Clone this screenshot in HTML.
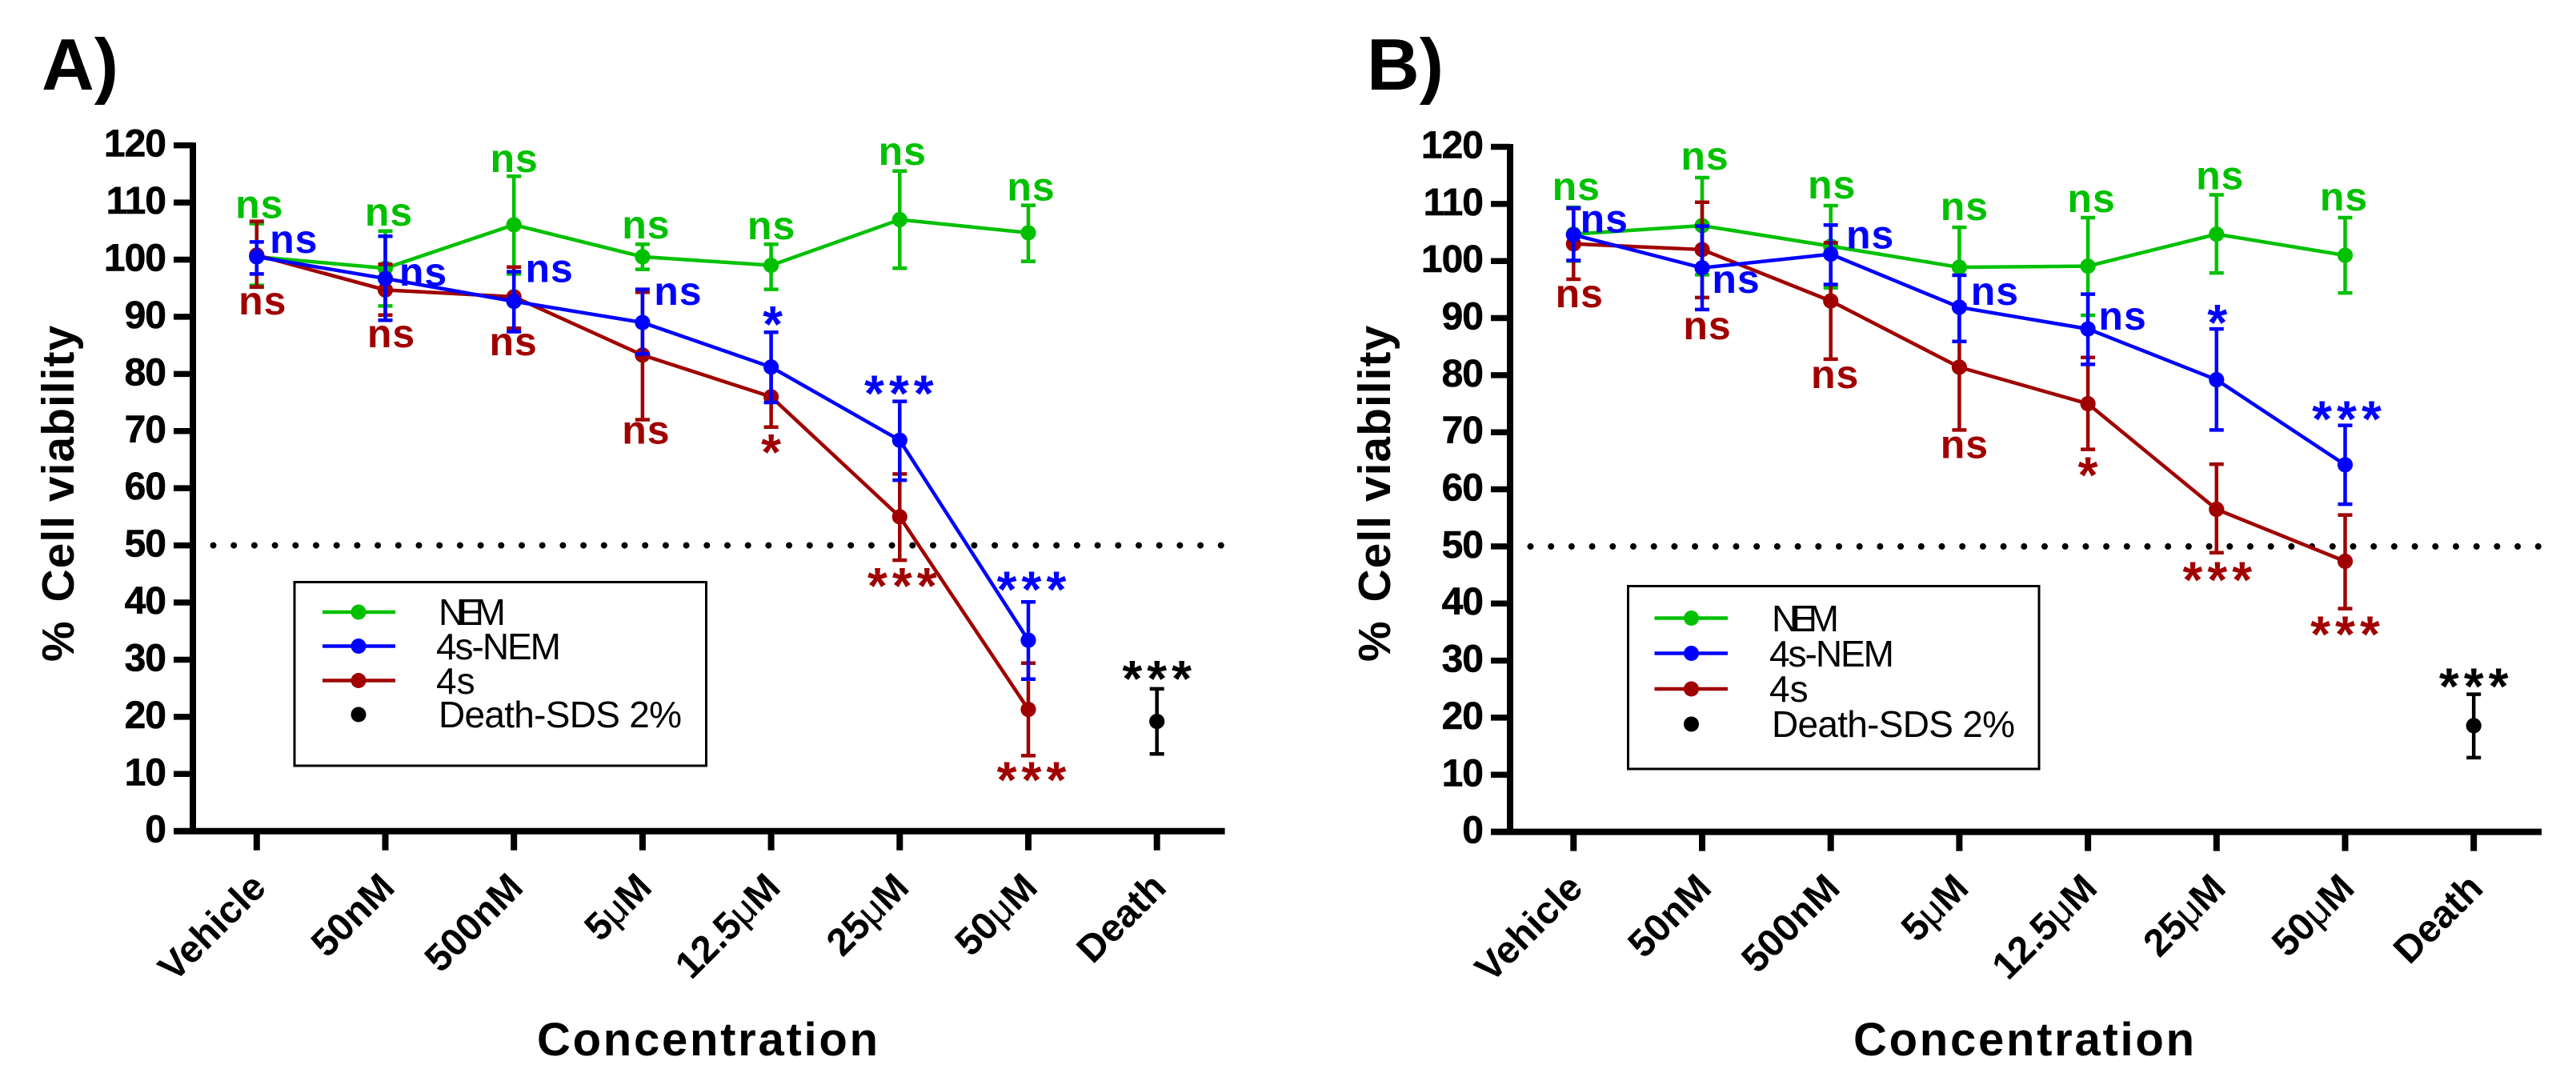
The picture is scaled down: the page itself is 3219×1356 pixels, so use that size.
<!DOCTYPE html>
<html lang="en">
<head>
<meta charset="utf-8">
<title>Cell viability panels A and B</title>
<style>
html,body{margin:0;padding:0;background:#fff;width:3219px;height:1356px;overflow:hidden}
svg{display:block;font-family:"Liberation Sans",Arial,sans-serif}
.lg{font-size:46px;fill:#000}
</style>
</head>
<body>
<svg id="chart" xmlns="http://www.w3.org/2000/svg" width="3219" height="1356" viewBox="0 0 3219 1356">
  <rect width="3219" height="1356" fill="#fff"/>
  <text x="52" y="112" font-size="91" font-weight="700">A)</text>
  <text x="1708" y="112" font-size="91" font-weight="700">B)</text>
  <text transform="translate(92,827) rotate(-90)" font-size="57" font-weight="700" letter-spacing="1"><tspan>%</tspan><tspan dx="6"> Cell viability</tspan></text>
  <text transform="translate(1737,827) rotate(-90)" font-size="57" font-weight="700" letter-spacing="1"><tspan>%</tspan><tspan dx="6"> Cell viability</tspan></text>
  <text x="671" y="1319" font-size="58" font-weight="700" textLength="426" lengthAdjust="spacing">Concentration</text>
  <text x="2316" y="1319" font-size="58" font-weight="700" textLength="426" lengthAdjust="spacing">Concentration</text>

  <g id="layer-a"></g>
  <g id="layer-b"></g>

  <g>
    <rect x="368" y="727.5" width="514.5" height="229.5" fill="none" stroke="#000" stroke-width="3"/>
    <line x1="403" x2="494" y1="765" y2="765" stroke="#00c000" stroke-width="4.5"/>
    <circle cx="448" cy="765" r="9.5" fill="#00c000"/>
    <text class="lg" x="548" y="781" textLength="84" lengthAdjust="spacing">NEM</text>
    <line x1="403" x2="494" y1="807.5" y2="807.5" stroke="#0000ff" stroke-width="4.5"/>
    <circle cx="448" cy="807.5" r="9.5" fill="#0000ff"/>
    <text class="lg" x="545" y="824" textLength="156" lengthAdjust="spacing">4s-NEM</text>
    <line x1="403" x2="494" y1="850.5" y2="850.5" stroke="#a00000" stroke-width="4.5"/>
    <circle cx="448" cy="850.5" r="9.5" fill="#a00000"/>
    <text class="lg" x="545" y="867">4s</text>
    <circle cx="448" cy="893" r="9.5" fill="#000"/>
    <text class="lg" x="548" y="909" textLength="304" lengthAdjust="spacing">Death-SDS 2%</text>
  </g>
  <g>
    <rect x="2034.5" y="732.5" width="513.5" height="228.5" fill="none" stroke="#000" stroke-width="3"/>
    <line x1="2067.5" x2="2159" y1="772.5" y2="772.5" stroke="#00c000" stroke-width="4.5"/>
    <circle cx="2113.5" cy="772.5" r="9.5" fill="#00c000"/>
    <text class="lg" x="2214" y="789" textLength="84" lengthAdjust="spacing">NEM</text>
    <line x1="2067.5" x2="2159" y1="816.5" y2="816.5" stroke="#0000ff" stroke-width="4.5"/>
    <circle cx="2113.5" cy="816.5" r="9.5" fill="#0000ff"/>
    <text class="lg" x="2211" y="833" textLength="156" lengthAdjust="spacing">4s-NEM</text>
    <line x1="2067.5" x2="2159" y1="861" y2="861" stroke="#a00000" stroke-width="4.5"/>
    <circle cx="2113.5" cy="861" r="9.5" fill="#a00000"/>
    <text class="lg" x="2211" y="877">4s</text>
    <circle cx="2113.5" cy="905" r="9.5" fill="#000"/>
    <text class="lg" x="2214" y="921" textLength="304" lengthAdjust="spacing">Death-SDS 2%</text>
  </g>
</svg>
<script>
// ---- shared labels ----
const categories = ['Vehicle', '50nM', '500nM', '5\u03BCM', '12.5\u03BCM', '25\u03BCM', '50\u03BCM', 'Death'];
const yTickValues = [0, 10, 20, 30, 40, 50, 60, 70, 80, 90, 100, 110, 120];
const thresholdValue = [50];

// ---- panel A values (% viability) ----
const aNemMean = [100.5, 98.5, 106.1, 100.5, 99.0, 107.0, 104.7];
const aNemHigh = [106.3, 105.0, 114.6, 102.7, 102.7, 115.5, 109.5];
const aNemLow = [95.5, 91.9, 97.5, 98.3, 94.8, 98.5, 99.7];
const a4sNemMean = [100.5, 96.7, 92.7, 89.0, 81.2, 68.4, 33.4];
const a4sNemHigh = [103.1, 104.1, 97.9, 94.8, 87.3, 75.2, 40.1];
const a4sNemLow = [97.5, 89.4, 87.4, 83.5, 75.0, 61.4, 26.6];
const a4sMean = [100.8, 94.7, 93.5, 83.3, 76.0, 55.0, 21.3];
const a4sHigh = [106.7, 99.2, 98.7, 94.3, 81.4, 62.5, 29.4];
const a4sLow = [95.2, 90.3, 88.0, 72.0, 70.7, 47.4, 13.2];
const aDeathMean = [19.2];
const aDeathHigh = [24.9];
const aDeathLow = [13.5];

// ---- panel B values (% viability) ----
const bNemMean = [104.7, 106.2, 102.6, 98.9, 99.1, 104.7, 101.0];
const bNemHigh = [109.4, 114.6, 109.7, 105.9, 107.6, 111.6, 107.6];
const bNemLow = [100.0, 97.6, 95.3, 91.8, 90.5, 97.9, 94.4];
const b4sNemMean = [104.6, 98.8, 101.2, 91.9, 88.1, 79.2, 64.3];
const b4sNemHigh = [109.3, 106.1, 106.3, 97.5, 94.2, 88.1, 71.2];
const b4sNemLow = [100.1, 91.5, 95.9, 85.9, 81.9, 70.4, 57.4];
const b4sMean = [103.0, 102.0, 93.0, 81.4, 75.0, 56.5, 47.4];
const b4sHigh = [109.2, 110.3, 103.2, 92.3, 83.1, 64.4, 55.5];
const b4sLow = [96.8, 93.6, 82.8, 70.4, 67.0, 48.9, 39.1];
const bDeathMean = [18.6];
const bDeathHigh = [24.1];
const bDeathLow = [13.0];

const GREEN = '#00c000', BLUE = '#0000ff', RED = '#a00000', BLACK = '#000000';
const NS = 'http://www.w3.org/2000/svg';

function make(parent, tag, attrs, text) {
  const node = document.createElementNS(NS, tag);
  for (const k in attrs) node.setAttribute(k, attrs[k]);
  if (text !== undefined) node.textContent = text;
  parent.appendChild(node);
  return node;
}

function makePanel(layerId, name, x0, step, axisX, yZero, yUnit, xEnd) {
  return {
    layer: document.getElementById(layerId), name, axisX, yZero, xEnd,
    xOf: i => x0 + step * i,
    yOf: v => yZero - yUnit * v
  };
}

function drawAxes(p) {
  const g = p.layer;
  const yTop = p.yOf(yTickValues[yTickValues.length - 1]);

  const yAxis = make(g, 'line', {x1: p.axisX, x2: p.axisX, y1: yTop - 3.5, y2: p.yZero + 3.5, stroke: '#000', 'stroke-width': 8});
  
  

  const xAxis = make(g, 'line', {x1: p.axisX - 24, x2: p.xEnd, y1: p.yZero, y2: p.yZero, stroke: '#000', 'stroke-width': 8});
  
  

  yTickValues.forEach(v => {
    const tick = make(g, 'line', {x1: p.axisX - 24, x2: p.axisX, y1: p.yOf(v), y2: p.yOf(v), stroke: '#000', 'stroke-width': 7.5});
    
    

    const label = make(g, 'text', {x: p.axisX - 34, y: p.yOf(v) + 14, 'text-anchor': 'end', 'font-size': 48, 'font-weight': 700, 'letter-spacing': -1, stroke: '#000', 'stroke-width': 0.6}, String(v));
    
    
  });

  categories.forEach((c, i) => {
    const x = p.xOf(i);
    const tick = make(g, 'line', {x1: x, x2: x, y1: p.yZero, y2: p.yZero + 24, stroke: '#000', 'stroke-width': 8});
    
    

    const label = make(g, 'text', {transform: 'translate(' + (x + 14) + ',' + (p.yZero + 73) + ') rotate(-45)', 'text-anchor': 'end', 'font-size': 48, 'font-weight': 700});
    
    
    c.split(/(\u03BC)/).forEach(part => {
      if (!part) return;
      make(label, 'tspan', part === '\u03BC' ? {'font-weight': 400} : {}, part);
    });
  });
}

function drawThreshold(p) {
  const y = p.yOf(thresholdValue[0]);
  const dots = make(p.layer, 'line', {x1: p.axisX + 25.5, x2: p.xEnd, y1: y, y2: y, stroke: '#000', 'stroke-width': 8, 'stroke-linecap': 'round', 'stroke-dasharray': '0 25.7'});
  
  
}

function drawSeries(p, key, color, mean, high, low, startIndex) {
  const g = make(p.layer, 'g', {});
  
  
  const pts = mean.map((v, i) => p.xOf(i + startIndex) + ',' + p.yOf(v)).join(' ');
  if (mean.length > 1) {
    const path = make(g, 'polyline', {points: pts, fill: 'none', stroke: color, 'stroke-width': 4.5});
    
    
  }
  mean.forEach((v, i) => {
    const x = p.xOf(i + startIndex), yH = p.yOf(high[i]), yL = p.yOf(low[i]);
    const bar = make(g, 'path', {
      d: 'M' + x + ' ' + yH + 'V' + yL + 'M' + (x - 9) + ' ' + yH + 'H' + (x + 9) + 'M' + (x - 9) + ' ' + yL + 'H' + (x + 9),
      fill: 'none', stroke: color, 'stroke-width': 4.5
    });
    
    

    const dot = make(g, 'circle', {cx: x, cy: p.yOf(v), r: 9.6, fill: color});
    
    
  });
}

// Significance label anchored to a value read from the series arrays.
function note(p, color, i, anchorValue, text, dx, dy) {
  const x = p.xOf(i) + dx;
  const y = p.yOf(anchorValue) + dy;
  let node;
  if (text === 'ns') {
    node = make(p.layer, 'text', {x: x + 0.5, y: y, 'text-anchor': 'middle', 'font-size': 50, 'font-weight': 700, 'letter-spacing': 1, fill: color}, text);
  } else {
    node = make(p.layer, 'text', {x: x + 3, y: y + 31, 'text-anchor': 'middle', 'font-size': 64, 'font-weight': 700, 'letter-spacing': 6, fill: color}, text);
  }
  
  
}

// ---- Panel A ----
const panelA = makePanel('layer-a', 'panel-a', 320.8, 160.7, 241, 1038.7, 7.142, 1530.6);
drawThreshold(panelA);
drawAxes(panelA);
drawSeries(panelA, 'nem', GREEN, aNemMean, aNemHigh, aNemLow, 0);
drawSeries(panelA, '4s', RED, a4sMean, a4sHigh, a4sLow, 0);
drawSeries(panelA, '4s-nem', BLUE, a4sNemMean, a4sNemHigh, a4sNemLow, 0);
drawSeries(panelA, 'death', BLACK, aDeathMean, aDeathHigh, aDeathLow, 7);

note(panelA, GREEN, 0, aNemHigh[0], 'ns', 3, -7);
note(panelA, GREEN, 1, aNemHigh[1], 'ns', 4, -7);
note(panelA, GREEN, 2, aNemHigh[2], 'ns', 0, -5);
note(panelA, GREEN, 3, aNemHigh[3], 'ns', 4, -7);
note(panelA, GREEN, 4, aNemHigh[4], 'ns', 0, -6);
note(panelA, GREEN, 5, aNemHigh[5], 'ns', 3, -8);
note(panelA, GREEN, 6, aNemHigh[6], 'ns', 3, -6);

note(panelA, BLUE, 0, a4sNemMean[0], 'ns', 46, -5);
note(panelA, BLUE, 1, a4sNemMean[1], 'ns', 47, 9);
note(panelA, BLUE, 2, a4sNemMean[2], 'ns', 44, -24);
note(panelA, BLUE, 3, a4sNemMean[3], 'ns', 44, -22);
note(panelA, BLUE, 4, a4sNemHigh[4], '*', 2, -19);
note(panelA, BLUE, 5, a4sNemHigh[5], '***', -1, -19);
note(panelA, BLUE, 6, a4sNemHigh[6], '***', 4, -25);

note(panelA, RED, 0, a4sLow[0], 'ns', 7, 34);
note(panelA, RED, 1, a4sLow[1], 'ns', 7, 40);
note(panelA, RED, 2, a4sLow[2], 'ns', -1, 34);
note(panelA, RED, 3, a4sLow[3], 'ns', 4, 30);
note(panelA, RED, 4, a4sLow[4], '*', 0, 22);
note(panelA, RED, 5, a4sLow[5], '***', 3, 23);
note(panelA, RED, 6, a4sLow[6], '***', 4, 21);
note(panelA, BLACK, 7, aDeathHigh[0], '***', 0, -22);

// ---- Panel B ----
const panelB = makePanel('layer-b', 'panel-b', 1966.3, 160.7, 1887, 1039.6, 7.134, 3176);
drawThreshold(panelB);
drawAxes(panelB);
drawSeries(panelB, 'nem', GREEN, bNemMean, bNemHigh, bNemLow, 0);
drawSeries(panelB, '4s', RED, b4sMean, b4sHigh, b4sLow, 0);
drawSeries(panelB, '4s-nem', BLUE, b4sNemMean, b4sNemHigh, b4sNemLow, 0);
drawSeries(panelB, 'death', BLACK, bDeathMean, bDeathHigh, bDeathLow, 7);

note(panelB, GREEN, 0, bNemHigh[0], 'ns', 3, -9);
note(panelB, GREEN, 1, bNemHigh[1], 'ns', 3, -10);
note(panelB, GREEN, 2, bNemHigh[2], 'ns', 1, -9);
note(panelB, GREEN, 3, bNemHigh[3], 'ns', 6, -9);
note(panelB, GREEN, 4, bNemHigh[4], 'ns', 4, -7);
note(panelB, GREEN, 5, bNemHigh[5], 'ns', 4, -7);
note(panelB, GREEN, 6, bNemHigh[6], 'ns', -2, -9);

note(panelB, BLUE, 0, b4sNemMean[0], 'ns', 38, -3);
note(panelB, BLUE, 1, b4sNemMean[1], 'ns', 42, 31);
note(panelB, BLUE, 2, b4sNemMean[2], 'ns', 49, -7);
note(panelB, BLUE, 3, b4sNemMean[3], 'ns', 44, -3);
note(panelB, BLUE, 4, b4sNemMean[4], 'ns', 43, 1);
note(panelB, BLUE, 5, b4sNemHigh[5], '*', 1, -17);
note(panelB, BLUE, 6, b4sNemHigh[6], '***', 2, -17);

note(panelB, RED, 0, b4sLow[0], 'ns', 7, 35);
note(panelB, RED, 1, b4sLow[1], 'ns', 6, 52);
note(panelB, RED, 2, b4sLow[2], 'ns', 5, 36);
note(panelB, RED, 3, b4sLow[3], 'ns', 6, 35);
note(panelB, RED, 4, b4sLow[4], '*', 0, 23);
note(panelB, RED, 5, b4sLow[5], '***', 1, 25);
note(panelB, RED, 6, b4sLow[6], '***', 0, 23);
note(panelB, BLACK, 7, bDeathHigh[0], '***', 0, -19);
</script>
</body>
</html>
